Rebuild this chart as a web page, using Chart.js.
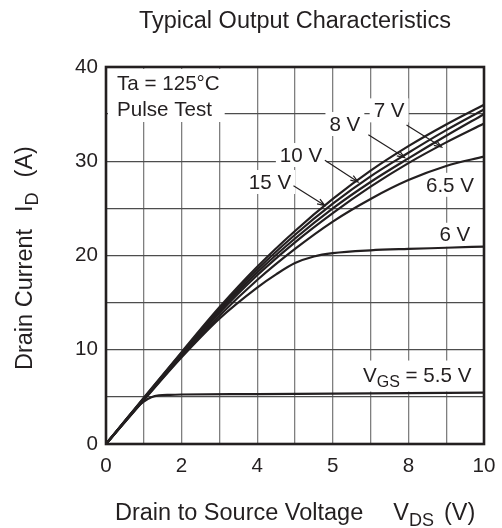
<!DOCTYPE html>
<html>
<head>
<meta charset="utf-8">
<script src="https://cdn.jsdelivr.net/npm/chart.js@4"></script>
<style>
  body { margin: 0; background: #fff; }
  #wrap { width: 502px; height: 528px; }
</style>
</head>
<body>
<div id="wrap"><canvas id="outputChart"></canvas></div>
<script>
// Drain current ID (A) against VDS (V), one array per gate voltage
const vds = [0, 1, 2, 3, 4, 5, 6, 7, 8, 9, 10];
const id15 = [0, 4.9, 9.75, 14.5, 18.8, 22.6, 26.0, 29.0, 31.6, 33.9, 36.0];
const id10 = [0, 4.85, 9.65, 14.3, 18.5, 22.2, 25.5, 28.4, 30.9, 33.3, 35.5];
const id8 = [0, 4.8, 9.55, 14.1, 18.2, 21.8, 25.0, 27.8, 30.3, 32.7, 35.0];
const id7 = [0, 4.75, 9.45, 13.9, 17.9, 21.4, 24.5, 27.3, 29.8, 32.0, 34.0];
const id65 = [0, 4.7, 9.3, 13.6, 17.4, 20.7, 23.6, 26.0, 28.0, 29.5, 30.5];
const vds6 = [0, 1, 2, 3, 4, 4.5, 5, 5.5, 6, 7, 8, 9, 10];
const id6 = [0, 4.65, 9.2, 13.3, 16.6, 18.0, 19.2, 19.9, 20.25, 20.55, 20.7, 20.82, 20.95];
const vds55 = [0, 0.5, 0.8, 1.0, 1.2, 1.4, 1.7, 2, 4, 6, 8, 10];
const id55 = [0, 2.45, 3.85, 4.5, 4.95, 5.15, 5.22, 5.25, 5.3, 5.35, 5.4, 5.45];

const xTickValues = [0, 2, 4, 6, 8, 10];
const xTickLabels = ['0', '2', '4', '5', '8', '10'];
const yTickValues = [0, 10, 20, 30, 40];

const FONT = '"Liberation Sans", Arial, sans-serif';
const INK = '#231f20';

// curve labels, in data units (VDS, ID)
const curveLabels = [
  { text: '7 V', at: [7.49, 35.4], from: [7.95, 33.85], to: [8.88, 31.5] },
  { text: '8 V', at: [6.32, 33.95], from: [6.94, 32.8], to: [7.9, 30.4] },
  { text: '10 V', at: [5.16, 30.66], from: [5.79, 30.1], to: [6.67, 27.8] },
  { text: '15 V', at: [4.34, 27.8], from: [4.96, 27.4], to: [5.79, 25.3] },
  { text: '6.5 V', at: [9.1, 27.5] },
  { text: '6 V', at: [9.23, 22.2] }
];
const vgsLabel = { parts: ['V', { sub: 'GS' }, ' = 5.5 V'], at: [6.8, 7.37] };

function pts(xs, ys) {
  return xs.map((v, i) => ({ x: v, y: ys[i] }));
}

// draws a run of text with subscripts, returns width
function rich(ctx, parts, x, y, size, draw) {
  let cx = x;
  parts.forEach(p => {
    if (typeof p === 'number') { cx += p; return; }
    if (typeof p === 'string') {
      ctx.font = size + 'px ' + FONT;
      if (draw) ctx.fillText(p, cx, y);
      cx += ctx.measureText(p).width;
    } else {
      ctx.font = Math.round(size * 0.76) + 'px ' + FONT;
      if (draw) ctx.fillText(p.sub, cx, y + size * 0.25);
      cx += ctx.measureText(p.sub).width;
    }
  });
  return cx - x;
}

function arrow(ctx, x1, y1, x2, y2) {
  const ang = Math.atan2(y2 - y1, x2 - x1);
  ctx.beginPath();
  ctx.moveTo(x1, y1);
  ctx.lineTo(x2, y2);
  ctx.moveTo(x2 - 8 * Math.cos(ang - 0.35), y2 - 8 * Math.sin(ang - 0.35));
  ctx.lineTo(x2, y2);
  ctx.lineTo(x2 - 8 * Math.cos(ang + 0.35), y2 - 8 * Math.sin(ang + 0.35));
  ctx.stroke();
}

const annotate = {
  id: 'annotate',
  beforeDatasetsDraw(chart) {
    const { ctx, chartArea: a, scales: { x, y } } = chart;
    ctx.save();
    ctx.fillStyle = '#fff';
    ctx.font = '20.6px ' + FONT;
    // box behind the test conditions
    const w = Math.max(ctx.measureText('Ta = 125°C').width, ctx.measureText('Pulse Test').width);
    ctx.fillRect(a.left + 2, a.top + 2, w + 14, 53);
    curveLabels.forEach(l => {
      const tw = ctx.measureText(l.text).width;
      ctx.fillRect(x.getPixelForValue(l.at[0]) - tw / 2 - 4, y.getPixelForValue(l.at[1]) - 12, tw + 8, 24);
    });
    const vw = rich(ctx, vgsLabel.parts, 0, 0, 20.6, false);
    ctx.fillRect(x.getPixelForValue(vgsLabel.at[0]) - 5, y.getPixelForValue(vgsLabel.at[1]) - 14, vw + 10, 31);
    ctx.restore();
  },
  afterDatasetsDraw(chart) {
    const { ctx, chartArea: a, scales: { x, y } } = chart;
    ctx.save();
    ctx.fillStyle = INK;
    ctx.strokeStyle = INK;
    ctx.font = '20.6px ' + FONT;
    ctx.textBaseline = 'alphabetic';
    ctx.fillText('Ta = 125°C', a.left + 11, 90);
    ctx.fillText('Pulse Test', a.left + 11, 116);

    ctx.textAlign = 'center';
    ctx.textBaseline = 'middle';
    ctx.lineWidth = 1.2;
    curveLabels.forEach(l => {
      ctx.fillText(l.text, x.getPixelForValue(l.at[0]), y.getPixelForValue(l.at[1]) + 1);
      if (l.from) {
        arrow(ctx, x.getPixelForValue(l.from[0]), y.getPixelForValue(l.from[1]),
          x.getPixelForValue(l.to[0]), y.getPixelForValue(l.to[1]));
      }
    });
    ctx.textAlign = 'left';
    ctx.textBaseline = 'alphabetic';
    rich(ctx, vgsLabel.parts, x.getPixelForValue(vgsLabel.at[0]), y.getPixelForValue(vgsLabel.at[1]) + 7.5, 20.6, true);

    // frame
    ctx.lineWidth = 2.6;
    ctx.strokeRect(a.left, a.top, a.right - a.left, a.bottom - a.top);
    ctx.restore();
  },
  afterDraw(chart) {
    const { ctx, chartArea: a } = chart;
    ctx.save();
    ctx.fillStyle = INK;
    ctx.font = '23.5px ' + FONT;
    ctx.textAlign = 'center';
    ctx.fillText('Typical Output Characteristics', (a.left + a.right) / 2, 28);
    ctx.textAlign = 'left';
    rich(ctx, ['Drain to Source Voltage', 30, 'V', { sub: 'DS' }, 10, '(V)'], 115, 520, 23.5, true);
    ctx.translate(32, 370);
    ctx.rotate(-Math.PI / 2);
    rich(ctx, ['Drain Current', 17, 'I', { sub: 'D' }, 15, '(A)'], 0, 0, 23.5, true);
    ctx.restore();
  }
};

const curveStyle = {
  borderColor: INK,
  borderWidth: 2.2,
  pointRadius: 0,
  fill: false,
  cubicInterpolationMode: 'monotone'
};

const ctx = document.getElementById('outputChart').getContext('2d');
const outputChart = new Chart(ctx, {
  type: 'line',
  data: {
    datasets: [
      { label: '15 V', data: pts(vds, id15), ...curveStyle },
      { label: '10 V', data: pts(vds, id10), ...curveStyle },
      { label: '8 V', data: pts(vds, id8), ...curveStyle },
      { label: '7 V', data: pts(vds, id7), ...curveStyle },
      { label: '6.5 V', data: pts(vds, id65), ...curveStyle },
      { label: '6 V', data: pts(vds6, id6), ...curveStyle },
      { label: '5.5 V', data: pts(vds55, id55), ...curveStyle }
    ]
  },
  options: {
    responsive: true,
    maintainAspectRatio: false,
    animation: false,
    layout: { padding: { top: 67, right: 18, left: 0, bottom: 0 } },
    plugins: {
      legend: { display: false },
      tooltip: { enabled: false }
    },
    scales: {
      x: {
        type: 'linear',
        min: 0,
        max: 10,
        afterFit: s => { s.height = 84; s.paddingLeft = 0; s.paddingRight = 0; },
        border: { display: false },
        grid: { color: '#7f7f7f', lineWidth: 1.3, drawTicks: false },
        ticks: {
          stepSize: 1,
          autoSkip: false,
          maxRotation: 0,
          padding: 10,
          color: INK,
          font: { family: FONT, size: 20.6 },
          callback: v => {
            const i = xTickValues.indexOf(v);
            return i >= 0 ? xTickLabels[i] : '';
          }
        }
      },
      y: {
        type: 'linear',
        min: 0,
        max: 40,
        afterFit: s => { s.width = 106; s.paddingTop = 0; s.paddingBottom = 0; },
        border: { display: false },
        grid: { color: '#4d4d4d', lineWidth: 1.3, drawTicks: false },
        ticks: {
          stepSize: 5,
          autoSkip: false,
          padding: 8,
          color: INK,
          font: { family: FONT, size: 20.6 },
          callback: v => yTickValues.includes(v) ? String(v) : ''
        }
      }
    }
  },
  plugins: [annotate]
});
</script>
</body>
</html>
